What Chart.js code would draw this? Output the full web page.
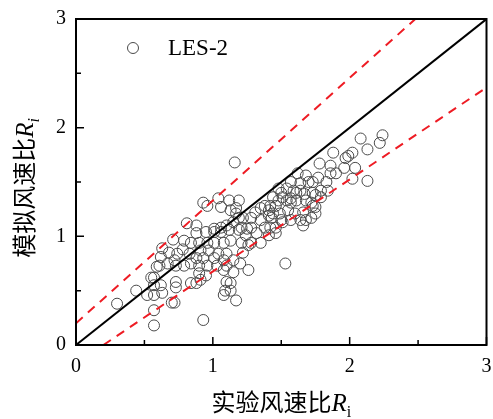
<!DOCTYPE html>
<html>
<head>
<meta charset="utf-8">
<script src="https://cdn.jsdelivr.net/npm/chart.js@4.4.0/dist/chart.umd.min.js"></script>
<style>
  html, body { margin: 0; padding: 0; background: #fff; }
  #wrap { width: 493px; height: 419px; }
</style>
</head>
<body>
<div id="wrap"><canvas id="chart" width="493" height="419"></canvas></div>
<script>
// 实验风速比 (x) 与 模拟风速比 (y)，LES-2 工况
const expRatio = [
  0.30, 0.44, 0.52, 0.57, 0.63, 0.62, 0.57, 0.57, 0.57, 0.70,
  0.72, 0.73, 0.73, 0.57, 0.61, 0.67, 0.73, 0.79, 0.84, 0.62,
  0.68, 0.74, 0.72, 0.78, 0.83, 0.71, 0.84, 0.84, 0.88, 0.91,
  0.93, 0.81, 0.88, 0.79, 0.63, 0.55, 0.59, 0.90, 0.88, 0.90,
  0.88, 0.90, 0.91, 0.95, 1.01, 1.06, 1.12, 1.19, 1.25, 0.96,
  1.01, 1.08, 1.13, 1.21, 1.26, 0.97, 1.04, 1.10, 1.22, 0.93,
  1.01, 1.08, 1.15, 0.96, 1.03, 1.10, 1.20, 0.95, 1.08, 1.15,
  1.26, 1.10, 1.13, 1.09, 1.13, 1.08, 1.17, 1.16, 0.93, 0.96,
  1.04, 1.06, 1.12, 1.13, 1.17, 1.19, 1.15, 1.10, 1.06, 1.01,
  1.21, 1.17, 1.28, 1.31, 1.35, 1.38, 1.41, 1.46, 1.48, 1.50,
  1.54, 1.57, 1.51, 1.44, 1.49, 1.55, 1.57, 1.35, 1.28, 1.42,
  1.51, 1.57, 1.28, 1.35, 1.24, 1.32, 1.41, 1.46, 1.38, 1.46,
  1.22, 1.43, 1.50, 1.41, 1.42, 1.48, 1.44, 1.54, 1.53, 1.19,
  1.57, 1.61, 1.67, 1.73, 1.61, 1.72, 1.79, 1.64, 1.62, 1.68,
  1.77, 1.70, 1.83, 1.79, 1.84, 1.78, 1.86, 1.86, 1.66, 1.75,
  1.75, 1.64, 1.68, 1.72, 1.60, 1.66, 1.88, 1.99, 2.02, 1.97,
  1.90, 1.96, 2.04, 2.02, 2.13, 2.13, 2.08, 2.24, 2.22, 1.75,
  1.68, 1.73, 1.59, 1.64, 1.73
];
const simRatio = [
  0.38, 0.50, 0.46, 0.46, 0.48, 0.55, 0.55, 0.32, 0.18, 0.39,
  0.39, 0.53, 0.58, 0.62, 0.73, 0.75, 0.73, 0.73, 0.75, 0.81,
  0.85, 0.84, 0.78, 0.88, 0.84, 0.97, 0.94, 0.57, 0.57, 0.60,
  0.23, 1.12, 1.10, 0.96, 0.89, 0.62, 0.72, 0.66, 0.80, 0.73,
  1.03, 0.94, 0.87, 1.04, 1.04, 1.04, 1.06, 1.06, 1.07, 0.94,
  0.94, 0.94, 0.96, 0.94, 0.92, 0.87, 0.84, 0.84, 0.85, 0.80,
  0.80, 0.78, 0.78, 0.73, 0.73, 0.73, 0.75, 0.64, 0.69, 0.67,
  0.69, 0.58, 0.57, 0.50, 0.50, 0.46, 0.41, 1.68, 1.31, 1.28,
  1.35, 1.27, 1.33, 1.24, 1.21, 1.17, 1.13, 1.10, 1.08, 1.07,
  1.08, 1.26, 1.17, 1.22, 1.26, 1.28, 1.19, 1.28, 1.33, 1.40,
  1.44, 1.50, 1.36, 1.21, 1.21, 1.24, 1.31, 1.15, 1.08, 1.08,
  1.13, 1.15, 0.94, 0.94, 1.01, 1.03, 1.01, 1.03, 1.08, 1.08,
  1.17, 1.17, 1.15, 1.24, 1.28, 1.44, 1.36, 1.33, 0.75, 1.33,
  1.35, 1.40, 1.39, 1.40, 1.33, 1.31, 1.36, 1.49, 1.58, 1.56,
  1.54, 1.50, 1.50, 1.42, 1.42, 1.67, 1.65, 1.58, 1.22, 1.27,
  1.21, 1.15, 1.15, 1.17, 1.21, 1.10, 1.77, 1.74, 1.77, 1.72,
  1.58, 1.63, 1.63, 1.53, 1.51, 1.80, 1.90, 1.93, 1.86, 1.38,
  1.33, 1.28, 1.42, 1.42, 1.50
];

// 参考线端点
const equalLineX = [0, 3];
const equalLineY = [0, 3];
const upperLineX = [0, 2.48];
const upperLineY = [0.2, 3];
const lowerLineX = [0.2, 3];
const lowerLineY = [0, 2.37];

const axisTicks = [0, 1, 2, 3];
const minorTicks = [0, 0.5, 1, 1.5, 2, 2.5, 3];
const seriesName = 'LES-2';

const toPoints = (xs, ys) => xs.map((x, i) => ({ x: x, y: ys[i] }));

// 混合字体文字（中文 + 斜体 R + 下标 i）
function drawRichText(ctx, parts, cx, baseline) {
    let total = 0;
    parts.forEach(p => {
        ctx.font = p.font;
        p.w = ctx.measureText(p.text).width;
        total += p.w;
    });
    let x = cx - total / 2;
    parts.forEach(p => {
        ctx.font = p.font;
        ctx.fillText(p.text, x, baseline + (p.dy || 0));
        x += p.w;
    });
}

const cjk = '"Noto Sans CJK SC"';
const serif = '"Liberation Serif", "Times New Roman", serif';

const framePlugin = {
    id: 'frame',
    afterDraw(chart) {
        const { ctx, chartArea: a, scales } = chart;
        ctx.save();

        // 外框
        ctx.strokeStyle = '#000';
        ctx.lineWidth = 2;
        ctx.strokeRect(a.left, a.top, a.right - a.left, a.bottom - a.top);

        // 向内刻度
        ctx.lineWidth = 1.5;
        ctx.beginPath();
        minorTicks.forEach(v => {
            const len = Number.isInteger(v) ? 8 : 5;
            const px = scales.x.getPixelForValue(v);
            ctx.moveTo(px, a.bottom);
            ctx.lineTo(px, a.bottom - len);
            const py = scales.y.getPixelForValue(v);
            ctx.moveTo(a.left, py);
            ctx.lineTo(a.left + len, py);
        });
        ctx.stroke();

        // 图例
        const lx = a.left + 57, ly = a.top + 29;
        ctx.lineWidth = 1;
        ctx.strokeStyle = '#4a4a4a';
        ctx.beginPath();
        ctx.arc(lx, ly, 5.5, 0, Math.PI * 2);
        ctx.stroke();
        ctx.fillStyle = '#000';
        ctx.textAlign = 'left';
        ctx.textBaseline = 'middle';
        ctx.font = '23px ' + serif;
        ctx.fillText(seriesName, lx + 35, ly + 1);

        // 坐标轴标题
        ctx.textBaseline = 'alphabetic';
        drawRichText(ctx, [
            { text: '实验风速比', font: '24px ' + cjk },
            { text: 'R', font: 'italic 25px ' + serif },
            { text: 'i', font: '16px ' + serif, dy: 6 }
        ], (a.left + a.right) / 2, 411);

        ctx.translate(33, 188);
        ctx.rotate(-Math.PI / 2);
        drawRichText(ctx, [
            { text: '模拟风速比', font: '24px ' + cjk },
            { text: 'R', font: 'italic 25px ' + serif },
            { text: 'i', font: 'italic 16px ' + serif, dy: 6 }
        ], 0, 0);

        ctx.restore();
    }
};

const refLine = (xs, ys, color, dash) => ({
    type: 'line',
    data: toPoints(xs, ys),
    borderColor: color,
    borderWidth: 2,
    borderDash: dash,
    pointRadius: 0,
    fill: false,
    tension: 0
});

new Chart(document.getElementById('chart').getContext('2d'), {
    type: 'scatter',
    data: {
        datasets: [
            refLine(equalLineX, equalLineY, '#000', []),
            refLine(upperLineX, upperLineY, '#ee1c24', [9, 7]),
            refLine(lowerLineX, lowerLineY, '#ee1c24', [9, 7]),
            {
                label: seriesName,
                data: toPoints(expRatio, simRatio),
                pointStyle: 'circle',
                pointRadius: 5.5,
                borderWidth: 1,
                borderColor: '#4a4a4a',
                backgroundColor: 'rgba(0,0,0,0)'
            }
        ]
    },
    options: {
        responsive: false,
        animation: false,
        layout: { padding: { top: 19, right: 3, left: 0, bottom: 0 } },
        plugins: {
            legend: { display: false },
            tooltip: { enabled: false }
        },
        scales: {
            x: {
                type: 'linear',
                min: 0,
                max: 3,
                afterBuildTicks: s => { s.ticks = axisTicks.map(v => ({ value: v })); },
                afterFit: s => { s.height = 74; s.paddingLeft = 0; s.paddingRight = 0; },
                grid: { display: false, drawTicks: false },
                border: { display: false },
                ticks: {
                    color: '#000',
                    font: { family: serif, size: 20 },
                    padding: 10,
                    maxRotation: 0
                }
            },
            y: {
                type: 'linear',
                min: 0,
                max: 3,
                afterBuildTicks: s => { s.ticks = axisTicks.map(v => ({ value: v })); },
                afterFit: s => { s.width = 76; s.paddingTop = 0; s.paddingBottom = 0; },
                grid: { display: false, drawTicks: false },
                border: { display: false },
                ticks: {
                    color: '#000',
                    font: { family: serif, size: 20 },
                    padding: 10
                }
            }
        }
    },
    plugins: [framePlugin]
});
</script>
</body>
</html>
